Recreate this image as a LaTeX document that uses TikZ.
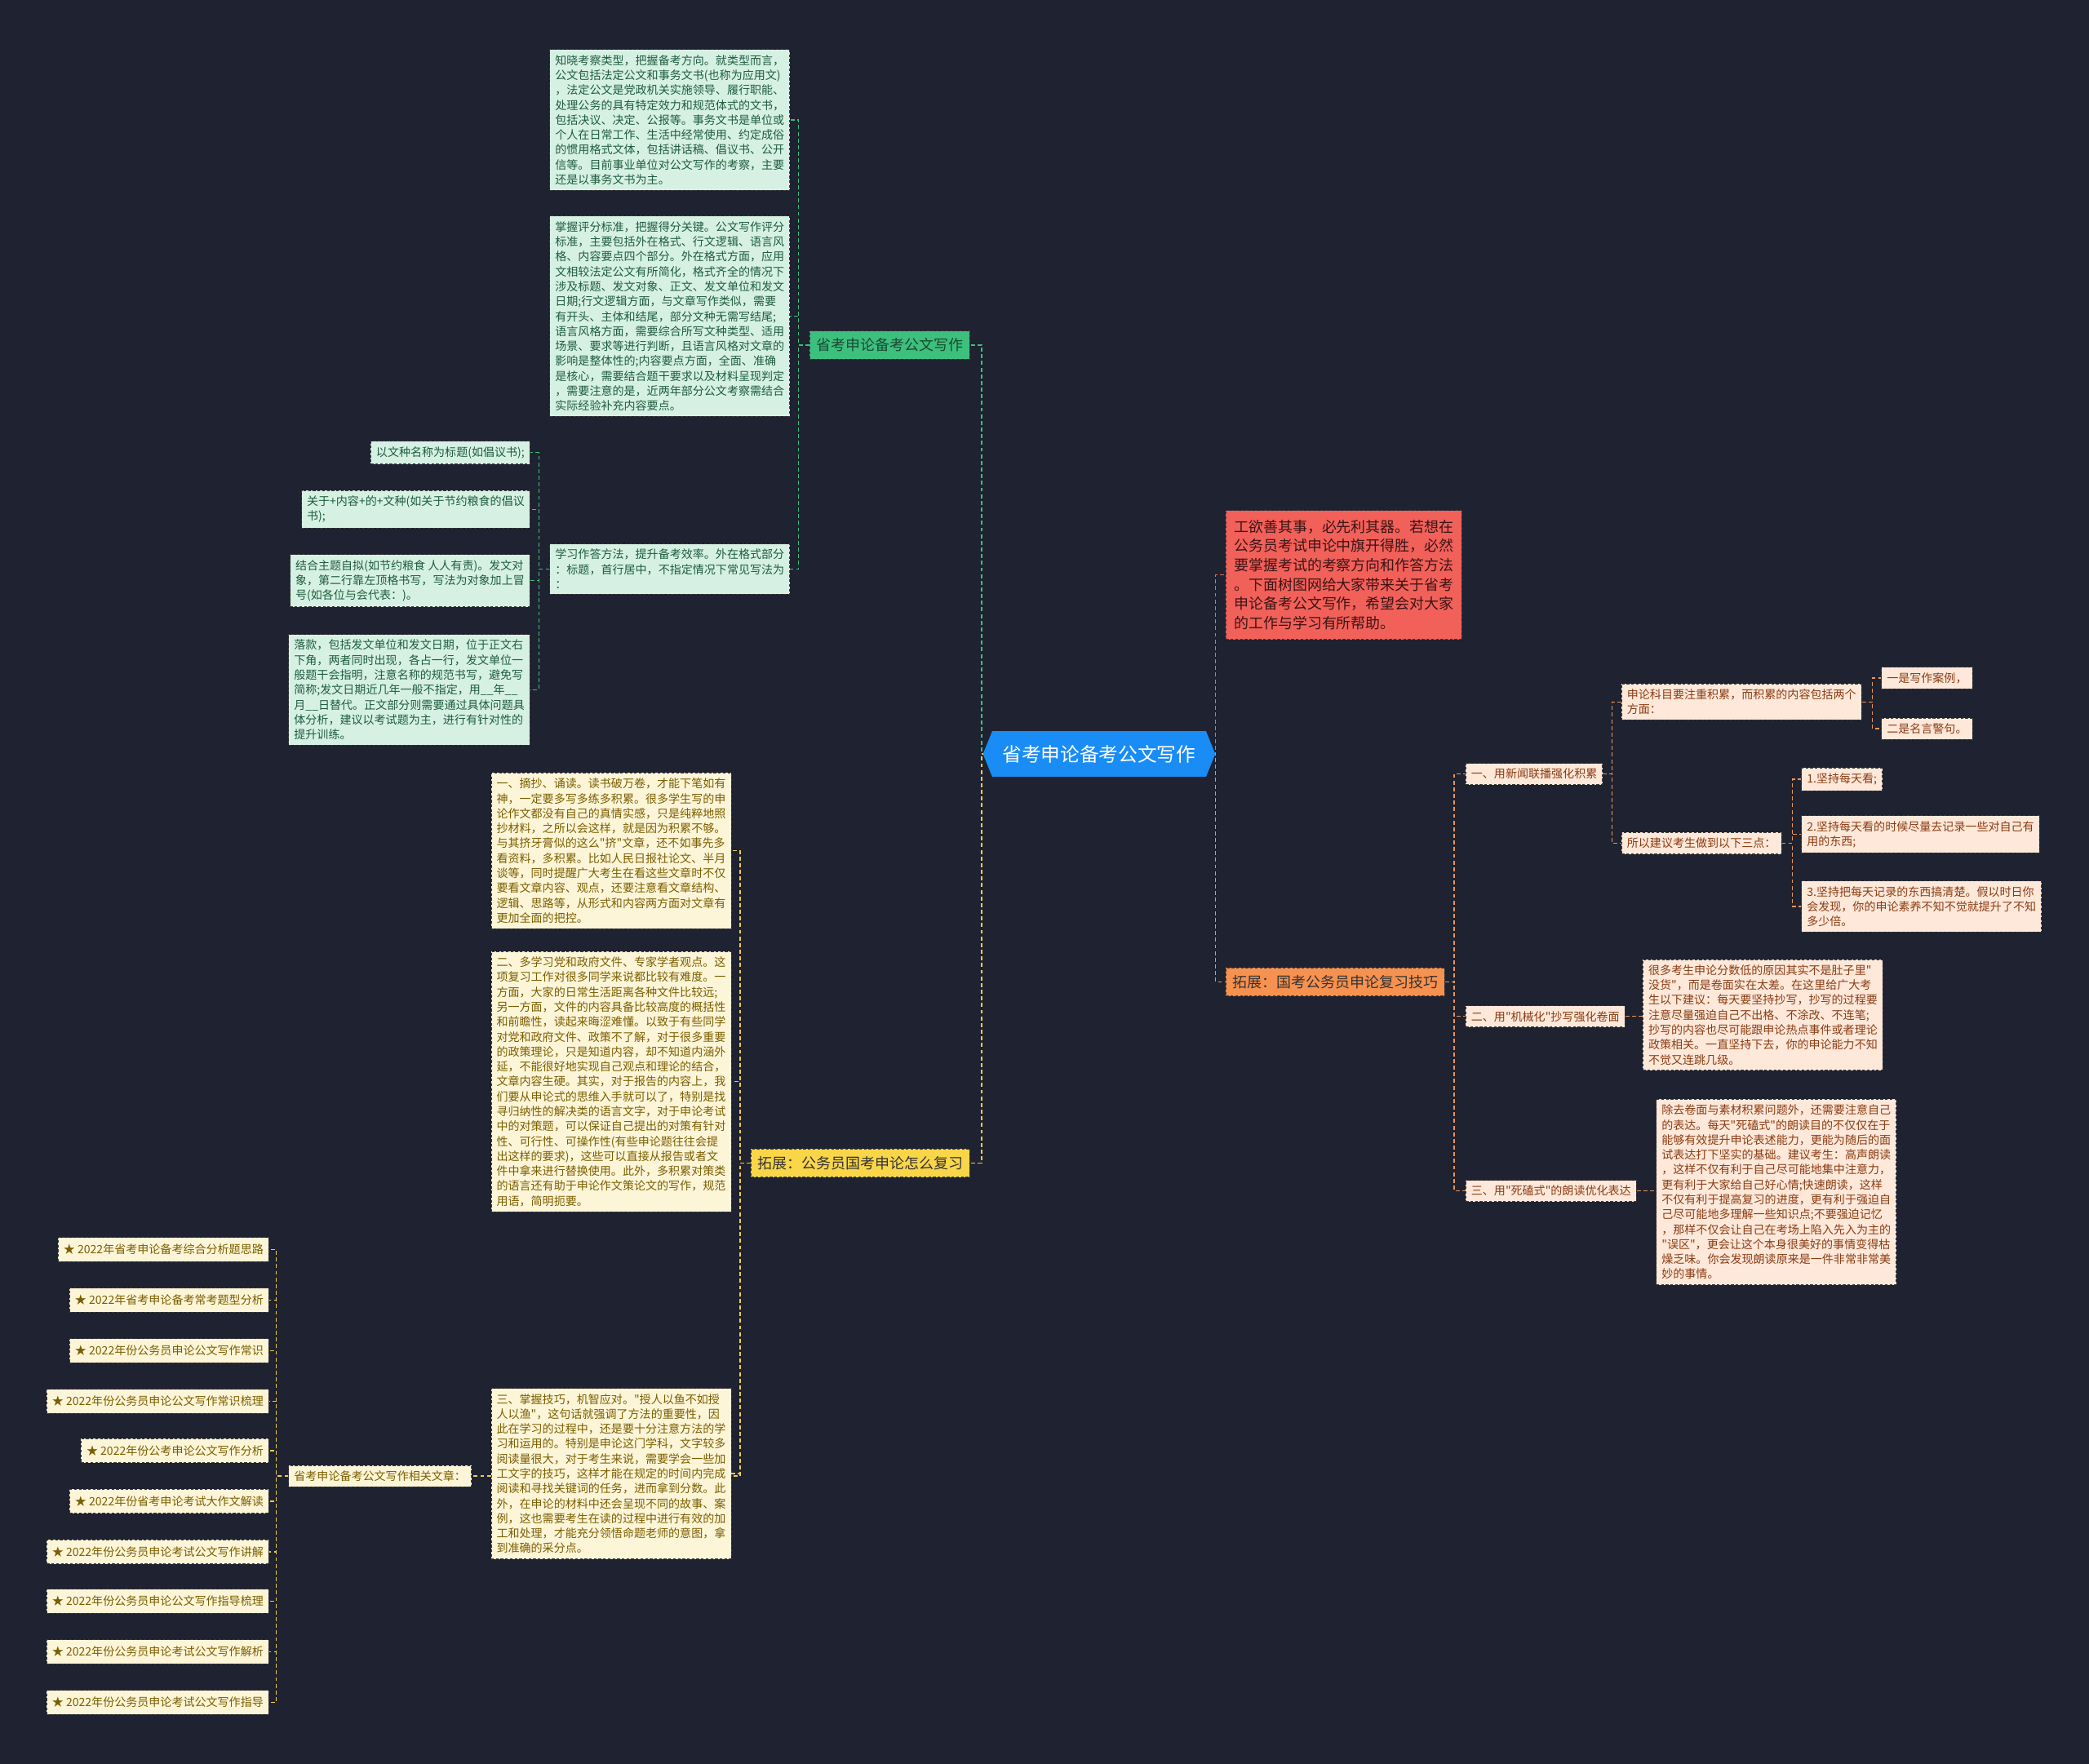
\documentclass[tikz,border=0pt]{standalone}
\usepackage{fontspec}
\setmainfont{Noto Sans CJK SC}[Ligatures=TeXOff]
\usetikzlibrary{backgrounds}
\definecolor{bgc}{HTML}{1F2230}
\definecolor{bordc}{HTML}{3A3A3A}
\definecolor{gfill}{HTML}{D6F1E4}
\definecolor{gtext}{HTML}{1E5C3D}
\definecolor{gline}{HTML}{3DBF7E}
\definecolor{gnode}{HTML}{3DBF7E}
\definecolor{yfill}{HTML}{FDF5D8}
\definecolor{ytext}{HTML}{7A5E00}
\definecolor{yline}{HTML}{EFCB4A}
\definecolor{ynode}{HTML}{F9D648}
\definecolor{ofill}{HTML}{FDE8DA}
\definecolor{otext}{HTML}{8A3C12}
\definecolor{oline}{HTML}{E8965A}
\definecolor{onode}{HTML}{F7914F}
\definecolor{rfill}{HTML}{F2605A}
\definecolor{rtext}{HTML}{3B1414}
\definecolor{rline}{HTML}{E2705E}
\definecolor{cblue}{HTML}{1A8CF5}
\tikzset{
  box/.style={draw=bordc, dashed, dash pattern=on 2pt off 1.5pt, line width=0.5pt, align=left,
    inner xsep=4pt, inner ysep=4pt, font=\fontsize{8.6}{11.2}\selectfont},
  gbox/.style={box, fill=gfill, text=gtext},
  ybox/.style={box, fill=yfill, text=ytext},
  obox/.style={box, fill=ofill, text=otext},
  conn/.style={dash pattern=on 3pt off 2pt, line width=0.8pt},
  mainnode/.style={draw=bordc, dashed, dash pattern=on 2pt off 1.5pt, line width=0.5pt,
    inner xsep=5pt, inner ysep=5.5pt, font=\fontsize{11}{13}\selectfont},
}
\begin{document}
\begin{tikzpicture}[x=1pt,y=-1pt]
\useasboundingbox (0,0) rectangle (1568,1324);

% ---------- centre ----------
\node[fill=cblue, text=white, minimum width=160pt, minimum height=34pt, inner sep=0pt,
  font=\fontsize{14.5}{16}\selectfont] (ctr) at (825,566) {省考申论备考公文写作};
\fill[cblue] (ctr.north west) -- ([xshift=-7pt]ctr.west) -- (ctr.south west) -- cycle;
\fill[cblue] (ctr.north east) -- ([xshift=7pt]ctr.east) -- (ctr.south east) -- cycle;

% ---------- green branch ----------
\node[mainnode, fill=gnode, text=gtext!80!black, anchor=east] (gn) at (728,259) {省考申论备考公文写作};
\node[gbox, anchor=north east] (g1) at (593,37) {知晓考察类型，把握备考方向。就类型而言，\\公文包括法定公文和事务文书(也称为应用文)\\，法定公文是党政机关实施领导、履行职能、\\处理公务的具有特定效力和规范体式的文书，\\包括决议、决定、公报等。事务文书是单位或\\个人在日常工作、生活中经常使用、约定成俗\\的惯用格式文体，包括讲话稿、倡议书、公开\\信等。目前事业单位对公文写作的考察，主要\\还是以事务文书为主。};
\node[gbox, anchor=north east] (g2) at (593,162) {掌握评分标准，把握得分关键。公文写作评分\\标准，主要包括外在格式、行文逻辑、语言风\\格、内容要点四个部分。外在格式方面，应用\\文相较法定公文有所简化，格式齐全的情况下\\涉及标题、发文对象、正文、发文单位和发文\\日期;行文逻辑方面，与文章写作类似，需要\\有开头、主体和结尾，部分文种无需写结尾;\\语言风格方面，需要综合所写文种类型、适用\\场景、要求等进行判断，且语言风格对文章的\\影响是整体性的;内容要点方面，全面、准确\\是核心，需要结合题干要求以及材料呈现判定\\，需要注意的是，近两年部分公文考察需结合\\实际经验补充内容要点。};
\node[gbox, anchor=north east] (g3) at (593,408) {学习作答方法，提升备考效率。外在格式部分\\：标题，首行居中，不指定情况下常见写法为\\：};
\node[gbox, anchor=north east] (c1) at (398,331) {以文种名称为标题(如倡议书);};
\node[gbox, anchor=north east] (c2) at (398,368) {关于+内容+的+文种(如关于节约粮食的倡议\\书);};
\node[gbox, anchor=north east] (c3) at (398,416) {结合主题自拟(如节约粮食 人人有责)。发文对\\象，第二行靠左顶格书写，写法为对象加上冒\\号(如各位与会代表：)。};
\node[gbox, anchor=north east] (c4) at (398,476) {落款，包括发文单位和发文日期，位于正文右\\下角，两者同时出现，各占一行，发文单位一\\般题干会指明，注意名称的规范书写，避免写\\简称;发文日期近几年一般不指定，用\_\_年\_\_\\月\_\_日替代。正文部分则需要通过具体问题具\\体分析，建议以考试题为主，进行有针对性的\\提升训练。};

% ---------- yellow branch ----------
\node[mainnode, fill=ynode, text=black!80, anchor=east] (yn) at (728,873) {拓展：公务员国考申论怎么复习};
\node[ybox, anchor=north east] (y1) at (549,580) {一、摘抄、诵读。读书破万卷，才能下笔如有\\神，一定要多写多练多积累。很多学生写的申\\论作文都没有自己的真情实感，只是纯粹地照\\抄材料，之所以会这样，就是因为积累不够。\\与其挤牙膏似的这么"挤"文章，还不如事先多\\看资料，多积累。比如人民日报社论文、半月\\谈等，同时提醒广大考生在看这些文章时不仅\\要看文章内容、观点，还要注意看文章结构、\\逻辑、思路等，从形式和内容两方面对文章有\\更加全面的把控。};
\node[ybox, anchor=north east] (y2) at (549,714) {二、多学习党和政府文件、专家学者观点。这\\项复习工作对很多同学来说都比较有难度。一\\方面，大家的日常生活距离各种文件比较远;\\另一方面，文件的内容具备比较高度的概括性\\和前瞻性，读起来晦涩难懂。以致于有些同学\\对党和政府文件、政策不了解，对于很多重要\\的政策理论，只是知道内容，却不知道内涵外\\延，不能很好地实现自己观点和理论的结合，\\文章内容生硬。其实，对于报告的内容上，我\\们要从申论式的思维入手就可以了，特别是找\\寻归纳性的解决类的语言文字，对于申论考试\\中的对策题，可以保证自己提出的对策有针对\\性、可行性、可操作性(有些申论题往往会提\\出这样的要求)，这些可以直接从报告或者文\\件中拿来进行替换使用。此外，多积累对策类\\的语言还有助于申论作文策论文的写作，规范\\用语，简明扼要。};
\node[ybox, anchor=north east] (y3) at (549,1042) {三、掌握技巧，机智应对。"授人以鱼不如授\\人以渔"，这句话就强调了方法的重要性，因\\此在学习的过程中，还是要十分注意方法的学\\习和运用的。特别是申论这门学科，文字较多\\阅读量很大，对于考生来说，需要学会一些加\\工文字的技巧，这样才能在规定的时间内完成\\阅读和寻找关键词的任务，进而拿到分数。此\\外，在申论的材料中还会呈现不同的故事、案\\例，这也需要考生在读的过程中进行有效的加\\工和处理，才能充分领悟命题老师的意图，拿\\到准确的采分点。};
\node[ybox, anchor=east] (rel) at (354,1108) {省考申论备考公文写作相关文章：};
\foreach \yy/\tt [count=\i] in {938/{★ 2022年省考申论备考综合分析题思路},
  976/{★ 2022年省考申论备考常考题型分析},
  1014/{★ 2022年份公务员申论公文写作常识},
  1052/{★ 2022年份公务员申论公文写作常识梳理},
  1089/{★ 2022年份公考申论公文写作分析},
  1127/{★ 2022年份省考申论考试大作文解读},
  1165/{★ 2022年份公务员申论考试公文写作讲解},
  1202/{★ 2022年份公务员申论公文写作指导梳理},
  1240/{★ 2022年份公务员申论考试公文写作解析},
  1278/{★ 2022年份公务员申论考试公文写作指导}}
  {\node[ybox, anchor=east, inner ysep=5pt] (l\i) at (202,\yy) {\tt};}

% ---------- red ----------
\node[box, fill=rfill, text=rtext, inner xsep=6pt, inner ysep=7pt, anchor=north west,
  font=\fontsize{11}{14.5}\selectfont] (rd) at (920,383) {工欲善其事，必先利其器。若想在\\公务员考试申论中旗开得胜，必然\\要掌握考试的考察方向和作答方法\\。下面树图网给大家带来关于省考\\申论备考公文写作，希望会对大家\\的工作与学习有所帮助。};

% ---------- orange branch ----------
\node[mainnode, fill=onode, text=black!80, anchor=west] (on) at (920,737) {拓展：国考公务员申论复习技巧};
\node[obox, anchor=west] (o1) at (1100,581) {一、用新闻联播强化积累};
\node[obox, anchor=west] (o2) at (1100,763) {二、用"机械化"抄写强化卷面};
\node[obox, anchor=west] (o3) at (1100,894) {三、用"死磕式"的朗读优化表达};
\node[obox, anchor=north west] (o1a) at (1217,513) {申论科目要注重积累，而积累的内容包括两个\\方面：};
\node[obox, anchor=west] (o1b) at (1217,633) {所以建议考生做到以下三点：};
\node[obox, anchor=west] (o1a1) at (1412,509) {一是写作案例，};
\node[obox, anchor=west] (o1a2) at (1412,547) {二是名言警句。};
\node[obox, anchor=west] (o1b1) at (1352,585) {1.坚持每天看;};
\node[obox, anchor=north west] (o1b2) at (1352,612) {2.坚持每天看的时候尽量去记录一些对自己有\\用的东西;};
\node[obox, anchor=north west] (o1b3) at (1352,661) {3.坚持把每天记录的东西搞清楚。假以时日你\\会发现，你的申论素养不知不觉就提升了不知\\多少倍。};
\node[obox, anchor=north west] (o2a) at (1233,720) {很多考生申论分数低的原因其实不是肚子里"\\没货"，而是卷面实在太差。在这里给广大考\\生以下建议：每天要坚持抄写，抄写的过程要\\注意尽量强迫自己不出格、不涂改、不连笔;\\抄写的内容也尽可能跟申论热点事件或者理论\\政策相关。一直坚持下去，你的申论能力不知\\不觉又连跳几级。};
\node[obox, anchor=north west] (o3a) at (1243,825) {除去卷面与素材积累问题外，还需要注意自己\\的表达。每天"死磕式"的朗读目的不仅仅在于\\能够有效提升申论表述能力，更能为随后的面\\试表达打下坚实的基础。建议考生：高声朗读\\，这样不仅有利于自己尽可能地集中注意力，\\更有利于大家给自己好心情;快速朗读，这样\\不仅有利于提高复习的进度，更有利于强迫自\\己尽可能地多理解一些知识点;不要强迫记忆\\，那样不仅会让自己在考场上陷入先入为主的\\"误区"，更会让这个本身很美好的事情变得枯\\燥乏味。你会发现朗读原来是一件非常非常美\\妙的事情。};

% ---------- connectors ----------
\begin{pgfonlayer}{background}
\fill[bgc] (0,0) rectangle (1568,1324);
\draw[conn, gline] (ctr.west) -- ++(-8,0) |- (gn.east);
\draw[conn, yline] (ctr.west) -- ++(-8,0) |- (yn.east);
\draw[conn, rline] (ctr.east) -- ++(7,0) |- (rd.west);
\draw[conn, oline] (ctr.east) -- ++(7,0) |- (on.west);
\foreach \n in {g1,g2,g3} \draw[conn, gline] (gn.west) -- ++(-8,0) |- (\n.east);
\foreach \n in {c1,c2,c3,c4} \draw[conn, gline] (g3.west) -- ++(-8,0) |- (\n.east);
\foreach \n in {y1,y2,y3,rel} \draw[conn, yline] (yn.west) -- ++(-8,0) |- (\n.east);
\foreach \i in {1,...,10} \draw[conn, yline] (rel.west) -- ++(-9,0) |- (l\i.east);
\foreach \n in {o1,o2,o3} \draw[conn, oline] (on.east) -- ++(7,0) |- (\n.west);
\foreach \n in {o1a,o1b} \draw[conn, oline] (o1.east) -- ++(7,0) |- (\n.west);
\foreach \n in {o1a1,o1a2} \draw[conn, oline] (o1a.east) -- ++(8,0) |- (\n.west);
\foreach \n in {o1b1,o1b2,o1b3} \draw[conn, oline] (o1b.east) -- ++(8,0) |- (\n.west);
\draw[conn, oline] (o2.east) -- (o2a.west |- o2.east);
\draw[conn, oline] (o3.east) -- (o3a.west |- o3.east);
\end{pgfonlayer}
\end{tikzpicture}
\end{document}
